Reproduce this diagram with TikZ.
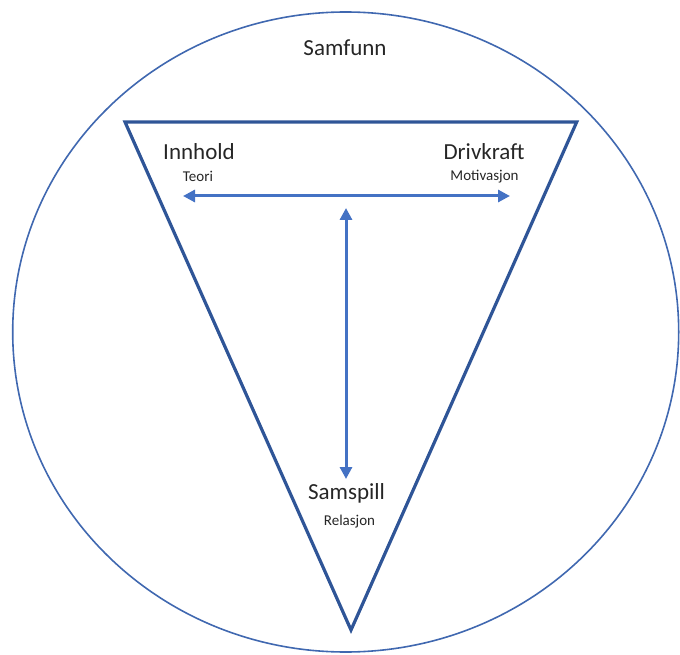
\documentclass[tikz,border=0pt]{standalone}
\usepackage{fontspec}
\setmainfont{Carlito}
\usetikzlibrary{arrows.meta}
\definecolor{frameblue}{HTML}{2F5597}
\definecolor{ringblue}{HTML}{4068B0}
\definecolor{arrowblue}{HTML}{4472C4}
\definecolor{textgray}{HTML}{262626}
\tikzset{
  ring/.style={draw=ringblue, line width=1.6pt},
  frame/.style={draw=frameblue, line width=3.2pt, line join=miter},
  link/.style={draw=arrowblue, line width=3pt,
    {Triangle[length=12pt,width=12pt]}-{Triangle[length=12pt,width=12pt]}},
  bigtext/.style={text=textgray, font=\fontsize{23}{26}\selectfont, inner sep=0pt},
  smalltext/.style={text=textgray, font=\fontsize{15}{18}\selectfont, inner sep=0pt}
}
\begin{document}
\begin{tikzpicture}[x=1pt, y=-1pt]
  \useasboundingbox (0,0) rectangle (680,655);
  % outer ring: society
  \draw[ring] (345.7,332) ellipse [x radius=333, y radius=320];
  % inverted triangle
  \coordinate (tl) at (125,122);
  \coordinate (tr) at (576.7,122);
  \coordinate (bt) at (351,630);
  \draw[frame] (tl) -- (tr) -- (bt) -- cycle;
  % labels
  \node[bigtext] (samfunn) at (345,48) {Samfunn};
  \node[bigtext] (innhold) at (199,152) {Innhold};
  \node[smalltext] (teori) at (198,176) {Teori};
  \node[bigtext] (drivkraft) at (484,152) {Drivkraft};
  \node[smalltext] (motiv) at (484.5,177) {Motivasjon};
  \node[bigtext] (samspill) at (346.5,493) {Samspill};
  \node[smalltext] (relasjon) at (349.5,522) {Relasjon};
  % connectors
  \coordinate (hl) at (183,196);
  \coordinate (hr) at (510,196);
  \coordinate (vt) at (346,208);
  \coordinate (vb) at (346,479);
  \draw[link] (hl) -- (hr);
  \draw[link] (vt) -- (vb);
\end{tikzpicture}
\end{document}
